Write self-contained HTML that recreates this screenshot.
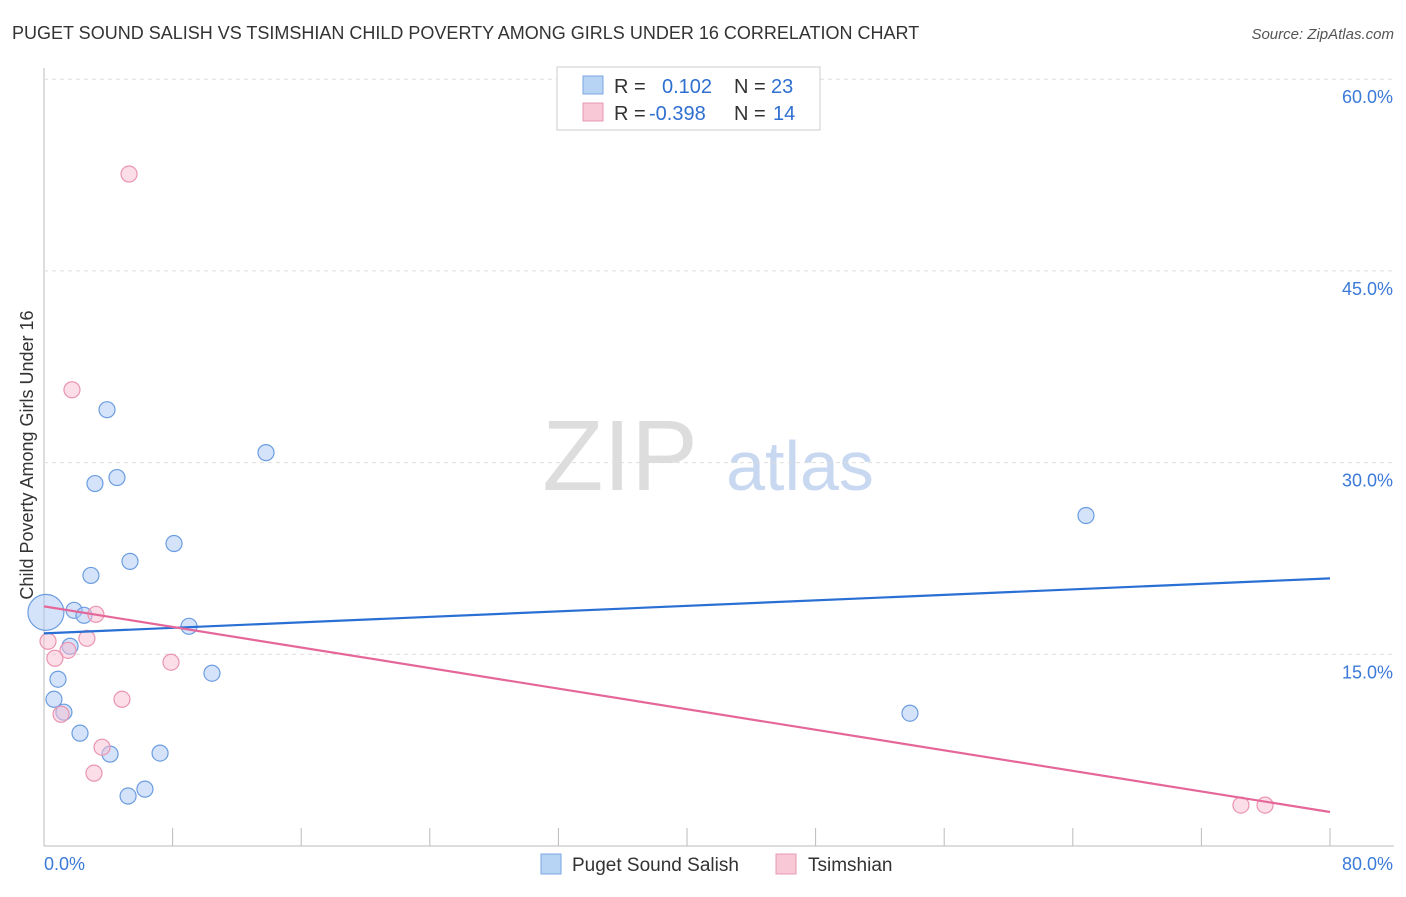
<!DOCTYPE html>
<html><head><meta charset="utf-8"><style>
body{margin:0;background:#fff;font-family:"Liberation Sans",sans-serif;}
svg text{font-family:"Liberation Sans",sans-serif;}
</style></head><body>
<svg id="c" width="1406" height="892">
<text x="12" y="39" font-size="18" fill="#333">PUGET SOUND SALISH VS TSIMSHIAN CHILD POVERTY AMONG GIRLS UNDER 16 CORRELATION CHART</text>
<text x="1394" y="39" font-size="15" fill="#555" text-anchor="end" font-style="italic">Source: ZipAtlas.com</text>
<text x="620" y="490" font-size="100" fill="#ddd" font-family="Liberation Serif" text-anchor="middle">ZIP</text>
<text x="800" y="490" font-size="70" fill="#c8d8f0" text-anchor="middle">atlas</text>
<text transform="translate(33,455) rotate(-90)" font-size="18" fill="#333" text-anchor="middle">Child Poverty Among Girls Under 16</text>
<g id="grid"></g><g id="pts"></g><g id="lines"></g>
<g>
<rect x="557" y="67" width="263" height="63" fill="#fff" stroke="#ccc"/>
<rect x="583" y="76" width="20" height="18" fill="#b8d4f5" stroke="#7aa6e0"/>
<rect x="583" y="103" width="20" height="18" fill="#f9c8d6" stroke="#e899b3"/>
<text x="614" y="93" font-size="20" fill="#333">R =</text><text x="662" y="93" font-size="20" fill="#2e6fd0">0.102</text>
<text x="734" y="93" font-size="20" fill="#333">N =</text><text x="771" y="93" font-size="20" fill="#2e6fd0">23</text>
<text x="614" y="120" font-size="20" fill="#333">R =</text><text x="649" y="120" font-size="20" fill="#2e6fd0">-0.398</text>
<text x="734" y="120" font-size="20" fill="#333">N =</text><text x="773" y="120" font-size="20" fill="#2e6fd0">14</text>
</g>
<g>
<rect x="541" y="854" width="20" height="20" fill="#b8d4f5" stroke="#7aa6e0"/>
<text x="572" y="871" font-size="19" fill="#333">Puget Sound Salish</text>
<rect x="776" y="854" width="20" height="20" fill="#f9c8d6" stroke="#e899b3"/>
<text x="808" y="871" font-size="19" fill="#333">Tsimshian</text>
</g>
</svg>
<script>
const blueX=[0.12,3.92,13.81,3.17,4.54,8.09,5.35,2.92,1.87,2.49,9.02,1.62,0.87,0.62,1.24,10.45,2.24,4.11,7.22,5.23,6.28,64.82,53.87];
const blueY=[18.28,34.14,30.78,28.36,28.83,23.67,22.27,21.17,18.44,18.05,17.19,15.63,13.05,11.48,10.47,13.52,8.83,7.19,7.27,3.91,4.45,25.86,10.39];
const pinkX=[5.29,1.74,3.23,0.25,2.67,1.49,0.68,7.90,4.85,1.06,3.61,3.11,74.46,75.96];
const pinkY=[52.58,35.70,18.13,16.02,16.25,15.31,14.69,14.38,11.48,10.31,7.73,5.70,3.20,3.20];
const blueTrend=[16.64,20.94];
const pinkTrend=[18.75,2.66];
const yTicks=[15,30,45,60];
const yTickLabels=["15.0%","30.0%","45.0%","60.0%"];
const xTicks=[0,8,16,24,32,40,48,56,64,72,80];
const NS="http://www.w3.org/2000/svg";
const X=v=>44+v/80*1286, Y=v=>846-v/15*191.7;
function mk(t,a,p){const e=document.createElementNS(NS,t);for(const k in a)e.setAttribute(k,a[k]);p.appendChild(e);return e;}
const g=document.getElementById('grid');
let ax=mk('line',{x1:44,y1:68,x2:44,y2:846,stroke:'#bbb'},g);

let bx=mk('line',{x1:44,y1:846,x2:1394,y2:846,stroke:'#bbb'},g);

yTicks.forEach((v,i)=>{
 let l=mk('line',{x1:44,x2:1394,y1:Y(v),y2:Y(v),stroke:'#ddd','stroke-dasharray':'4,4'},g);
 
 let t=mk('text',{x:1393,y:Y(v)+24,'font-size':18,fill:'#3b7ad8','text-anchor':'end'},g);t.textContent=yTickLabels[i];
 
});
xTicks.forEach(v=>{if(v===0)return;
 let l=mk('line',{x1:X(v),x2:X(v),y1:828,y2:846,stroke:'#bbb'},g);
 });
let t0=mk('text',{x:44,y:870,'font-size':18,fill:'#3b7ad8'},g);t0.textContent="0.0%";

let t1=mk('text',{x:1393,y:870,'font-size':18,fill:'#3b7ad8','text-anchor':'end'},g);t1.textContent="80.0%";

const p=document.getElementById('pts');
blueX.forEach((v,i)=>{let c=mk('circle',{cx:X(v),cy:Y(blueY[i]),r:i===0?18:8,fill:'rgba(170,200,245,0.5)',stroke:'#6c9de0','stroke-width':1.2},p);
 });
pinkX.forEach((v,i)=>{let c=mk('circle',{cx:X(v),cy:Y(pinkY[i]),r:8,fill:'rgba(248,190,210,0.5)',stroke:'#ea94b2','stroke-width':1.2},p);
 });
const L=document.getElementById('lines');
let b=mk('line',{x1:X(0),x2:X(80),y1:Y(blueTrend[0]),y2:Y(blueTrend[1]),stroke:'#2a6fd3','stroke-width':2.2},L);

let pk=mk('line',{x1:X(0),x2:X(80),y1:Y(pinkTrend[0]),y2:Y(pinkTrend[1]),stroke:'#e5679a','stroke-width':2.2},L);

</script>
</body></html>
